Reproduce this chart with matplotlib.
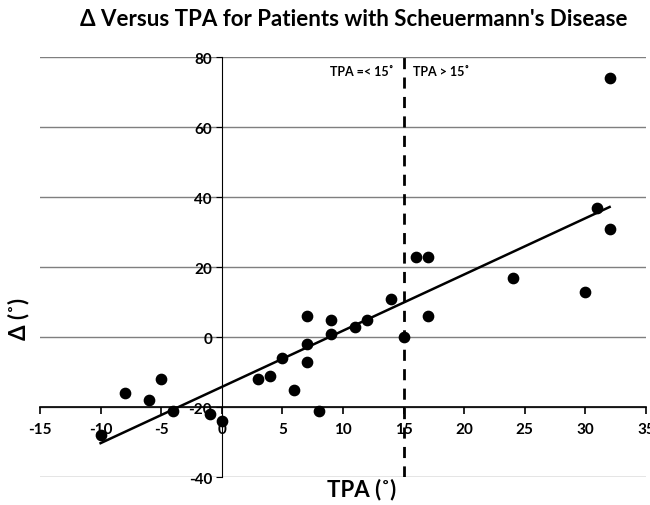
import numpy as np
import matplotlib
matplotlib.use("Agg")
import matplotlib.pyplot as plt

plt.rcParams['font.family'] = ['Lato', 'DejaVu Sans']
plt.rcParams['axes.unicode_minus'] = False

# TPA (deg) vs delta (deg)
tpa = [-10, -8, -6, -5, -4, -1, 0, 3, 4, 5, 6, 7, 7, 7, 8, 9, 9, 11, 12,
       14, 15, 16, 17, 17, 24, 30, 31, 32, 32]
delta = [-28, -16, -18, -12, -21, -22, -24, -12, -11, -6, -15, 6, -2, -7, -21,
         5, 1, 3, 5, 11, 0, 23, 23, 6, 17, 13, 37, 31, 74]
xticks = [-15, -10, -5, 0, 5, 10, 15, 20, 25, 30, 35]
yticks = [-40, -20, 0, 20, 40, 60, 80]
cutoff = 15

fig = plt.figure(figsize=(6.5, 5.06), dpi=100)
ax = fig.add_axes([0.0615, 0.0553, 0.9323, 0.8297])
ax.set_xlim(-15, 35)
ax.set_ylim(-40, 80)

# horizontal gridlines
for y in yticks:
    ax.axhline(y, color='#7f7f7f', lw=1.0, zorder=0)

ax.spines['left'].set_position(('data', 0))
ax.spines['bottom'].set_position(('data', -20))
ax.spines['top'].set_visible(False)
ax.spines['right'].set_visible(False)
ax.spines['left'].set_linewidth(0.8)
ax.spines['bottom'].set_linewidth(1.2)

ax.set_xticks(xticks)
ax.set_yticks(yticks)
ax.tick_params(axis='x', direction='out', length=5, width=1.2, pad=6,
               labelsize=11)
ax.tick_params(axis='y', direction='out', length=4, width=0.8, pad=3,
               labelsize=11)
for lab in ax.get_xticklabels() + ax.get_yticklabels():
    lab.set_fontweight('bold')

ax.scatter(tpa, delta, s=55, color='black', zorder=3)

# linear trend line
m, b = np.polyfit(tpa, delta, 1)
xs = np.array([min(tpa), max(tpa)])
ax.plot(xs, m * xs + b, color='black', lw=1.8, zorder=2)

ax.axvline(cutoff, color='black', lw=2, ls=(0, (4, 3)), zorder=2)
ax.text(cutoff - 0.8, 76, 'TPA =< 15˚', ha='right', va='center',
        fontsize=9, fontweight='bold')
ax.text(cutoff + 0.8, 76, 'TPA > 15˚', ha='left', va='center',
        fontsize=9, fontweight='bold')

fig.text(0.545, 0.962, "Δ Versus TPA for Patients with Scheuermann's Disease",
         ha='center', va='center', fontsize=16, fontweight='bold')
fig.text(0.557, 0.032, 'TPA (˚)', ha='center', va='center',
         fontsize=16, fontweight='bold')
fig.text(0.028, 0.37, 'Δ (˚)', ha='center', va='center', rotation=90,
         fontsize=16, fontweight='bold')

fig.savefig('out.png', dpi=100)
